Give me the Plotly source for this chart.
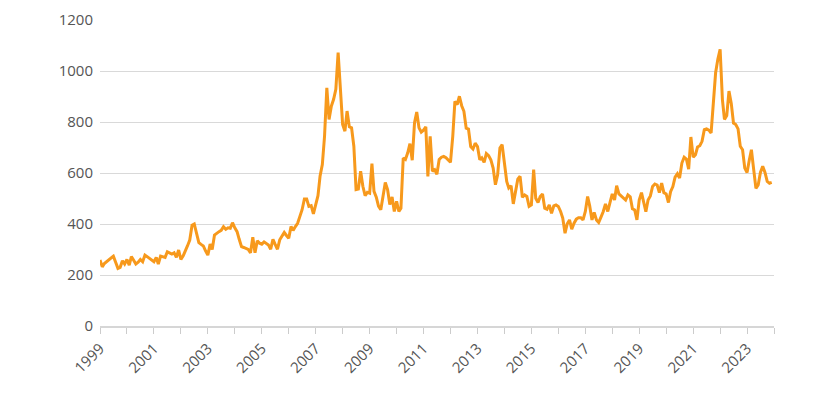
import plotly.graph_objects as go
import pandas as pd

start_month = "1999-01-01"

v1999 = [259, 232, 245, 252, 261, 268, 274, 250, 226, 230, 256, 243]
v2000 = [261, 239, 272, 258, 243, 250, 261, 252, 278, 272, 265, 258]
v2001 = [252, 269, 243, 274, 272, 269, 291, 285, 282, 287, 269, 298]
v2002 = [261, 275, 291, 315, 337, 395, 400, 365, 327, 320, 314, 295]
v2003 = [278, 321, 300, 357, 365, 370, 375, 389, 379, 385, 383, 405]
v2004 = [385, 370, 340, 311, 308, 305, 300, 287, 348, 287, 334, 325]
v2005 = [321, 330, 325, 318, 301, 340, 320, 301, 338, 355, 367, 355]
v2006 = [344, 390, 375, 390, 403, 430, 456, 498, 498, 469, 472, 440]
v2007 = [482, 511, 587, 633, 744, 934, 810, 862, 889, 928, 1072, 915]
v2008 = [790, 764, 843, 781, 777, 705, 535, 537, 607, 548, 511, 524]
v2009 = [521, 637, 528, 505, 470, 456, 508, 563, 535, 476, 506, 449]
v2010 = [489, 449, 462, 659, 653, 679, 715, 650, 797, 839, 777, 760]
v2011 = [768, 781, 587, 744, 607, 613, 595, 653, 662, 665, 660, 652]
v2012 = [642, 744, 881, 868, 901, 864, 842, 776, 772, 704, 694, 717]
v2013 = [704, 652, 659, 642, 676, 668, 652, 619, 554, 593, 698, 711]
v2014 = [632, 567, 541, 550, 479, 528, 576, 587, 505, 514, 508, 469]
v2015 = [475, 613, 501, 484, 508, 518, 462, 458, 475, 442, 471, 475]
v2016 = [469, 449, 423, 364, 401, 416, 380, 403, 419, 425, 425, 416]
v2017 = [449, 508, 471, 416, 445, 416, 406, 427, 449, 479, 449, 484]
v2018 = [518, 494, 550, 518, 510, 505, 494, 514, 507, 460, 455, 416]
v2019 = [494, 523, 481, 448, 494, 510, 547, 557, 553, 523, 560, 523]
v2020 = [518, 484, 527, 547, 584, 597, 580, 639, 662, 655, 615, 741]
v2021 = [662, 672, 702, 707, 724, 770, 773, 768, 757, 895, 993, 1046]
v2022 = [1085, 888, 810, 825, 921, 873, 796, 790, 773, 705, 691, 619]
v2023 = [602, 652, 691, 613, 540, 553, 602, 626, 602, 567, 560, 563]

values = (v1999 + v2000 + v2001 + v2002 + v2003 + v2004 + v2005 + v2006 + v2007
          + v2008 + v2009 + v2010 + v2011 + v2012 + v2013 + v2014 + v2015 + v2016
          + v2017 + v2018 + v2019 + v2020 + v2021 + v2022 + v2023)
dates = pd.date_range(start_month, periods=len(values), freq="MS")

tick_years = list(range(1999, 2025))
tick_labels = [str(y) if y % 2 == 1 and y < 2024 else "" for y in tick_years]
y_ticks = [0, 200, 400, 600, 800, 1000, 1200]

fig = go.Figure()
fig.add_trace(go.Scatter(
    x=dates, y=values, mode="lines",
    line=dict(color="#F7991C", width=3),
    hoverinfo="x+y", showlegend=False,
))

fig.update_layout(
    width=828, height=395,
    margin=dict(l=92, r=62, t=12, b=77),
    paper_bgcolor="white", plot_bgcolor="white",
    font=dict(family="Open Sans, sans-serif", size=15, color="#555555"),
    xaxis=dict(
        type="date",
        range=["1999-01-01", "2024-01-01"],
        tickmode="array",
        tickvals=[f"{y}-01-01" for y in tick_years],
        ticktext=tick_labels,
        tickangle=-45,
        ticks="outside", ticklen=6, tickcolor="#cccccc", tickwidth=1,
        showgrid=False,
        showline=True, linecolor="#d6d6d6", linewidth=2,
        zeroline=False, automargin=False,
        tickfont=dict(size=15, color="#555555"),
    ),
    yaxis=dict(
        range=[0, 1200],
        tickvals=y_ticks,
        showgrid=True, gridcolor="#d9d9d9", gridwidth=1,
        zeroline=False, showline=False, automargin=False,
        ticks="", ticklabelstandoff=6,
        tickfont=dict(size=15, color="#555555"),
    ),
)

fig.write_html("out.html")
